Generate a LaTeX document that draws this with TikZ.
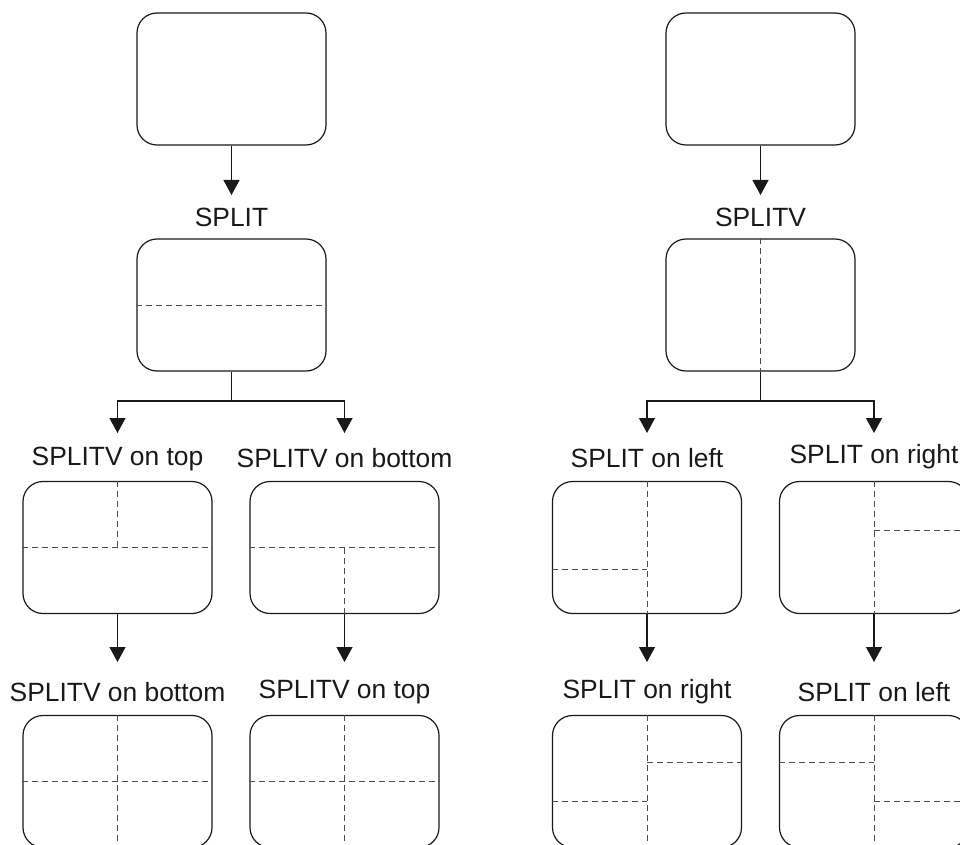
\documentclass[tikz,border=0pt]{standalone}
\usepackage{fontspec}
\setmainfont{Liberation Sans}
\usetikzlibrary{arrows.meta}
\begin{document}
\begin{tikzpicture}[x=1pt,y=-1pt,
  win/.style={draw=black!90, line width=1.2pt, rounded corners=20pt, minimum width=189pt, minimum height=132pt, inner sep=0pt},
  dsh/.style={draw=black!70, line width=1pt, dash pattern=on 6pt off 4pt},
  conn/.style={draw=black!90, line width=1.2pt},
  arr/.style={conn, -{Triangle[width=16pt,length=15pt]}},
  lbl/.style={font=\fontsize{26.4}{30}\selectfont, text=black!90, anchor=base, inner sep=0pt}]
\useasboundingbox (0,0) rectangle (960,845);
\clip (0,0) rectangle (960,845);

% ---------- left tree ----------
\node[win] (a1) at (231.5,79) {};
\node[lbl] (la1) at (231.5,226) {SPLIT};
\node[win] (b1) at (231.5,305) {};
\node[lbl] (lc1) at (117.5,465) {SPLITV on top};
\node[lbl] (lc2) at (344.5,467) {SPLITV on bottom};
\node[win] (c1) at (117.5,547.5) {};
\node[win] (c2) at (344.5,547.5) {};
\node[lbl] (ld1) at (117.5,701) {SPLITV on bottom};
\node[lbl] (ld2) at (344.5,698) {SPLITV on top};
\node[win] (d1) at (117.5,781.5) {};
\node[win] (d2) at (344.5,781.5) {};

\draw[dsh] (b1.west) -- (b1.east);
\draw[dsh] (c1.west) -- (c1.east);
\draw[dsh] (c1.north) -- (c1.center);
\draw[dsh] (c2.west) -- (c2.east);
\draw[dsh] (c2.center) -- (c2.south);
\draw[dsh] (d1.west) -- (d1.east);
\draw[dsh] (d1.north) -- (d1.south);
\draw[dsh] (d2.west) -- (d2.east);
\draw[dsh] (d2.north) -- (d2.south);

\coordinate (ta1) at (231.5,195);
\coordinate (jl) at (231.5,401);
\coordinate (tc1) at (117.5,433);
\coordinate (tc2) at (344.5,433);
\coordinate (td1) at (117.5,662);
\coordinate (td2) at (344.5,662);
\draw[arr] (a1.south) -- (ta1);
\draw[conn] (b1.south) -- (jl);
\draw[arr] (jl) -| (tc1);
\draw[arr] (jl) -| (tc2);
\draw[arr] (c1.south) -- (td1);
\draw[arr] (c2.south) -- (td2);

% ---------- right tree ----------
\node[win] (e1) at (760.5,79) {};
\node[lbl] (le1) at (760.5,226) {SPLITV};
\node[win] (e2) at (760.5,305) {};
\node[lbl] (lf1) at (647,467) {SPLIT on left};
\node[lbl] (lf2) at (874,463) {SPLIT on right};
\node[win] (f1) at (647,547.5) {};
\node[win] (f2) at (874,547.5) {};
\node[lbl] (lg1) at (647,698) {SPLIT on right};
\node[lbl] (lg2) at (874,701) {SPLIT on left};
\node[win] (g1) at (647,781.5) {};
\node[win] (g2) at (874,781.5) {};

\draw[dsh] (e2.north) -- (e2.south);
\draw[dsh] (f1.north) -- (f1.south);
\draw[dsh] (f1.west |- 0,569) -- (f1.center |- 0,569);
\draw[dsh] (f2.north) -- (f2.south);
\draw[dsh] (f2.center |- 0,530) -- (f2.east |- 0,530);
\draw[dsh] (g1.north) -- (g1.south);
\draw[dsh] (g1.center |- 0,762) -- (g1.east |- 0,762);
\draw[dsh] (g1.west |- 0,801) -- (g1.center |- 0,801);
\draw[dsh] (g2.north) -- (g2.south);
\draw[dsh] (g2.west |- 0,762) -- (g2.center |- 0,762);
\draw[dsh] (g2.center |- 0,801) -- (g2.east |- 0,801);

\coordinate (te1) at (760.5,195);
\coordinate (jr) at (760.5,401);
\coordinate (tf1) at (647,433);
\coordinate (tf2) at (874,433);
\coordinate (tg1) at (647,662);
\coordinate (tg2) at (874,662);
\draw[arr] (e1.south) -- (te1);
\draw[conn] (e2.south) -- (jr);
\draw[arr] (jr) -| (tf1);
\draw[arr] (jr) -| (tf2);
\draw[arr] (f1.south) -- (tg1);
\draw[arr] (f2.south) -- (tg2);
\end{tikzpicture}
\end{document}
